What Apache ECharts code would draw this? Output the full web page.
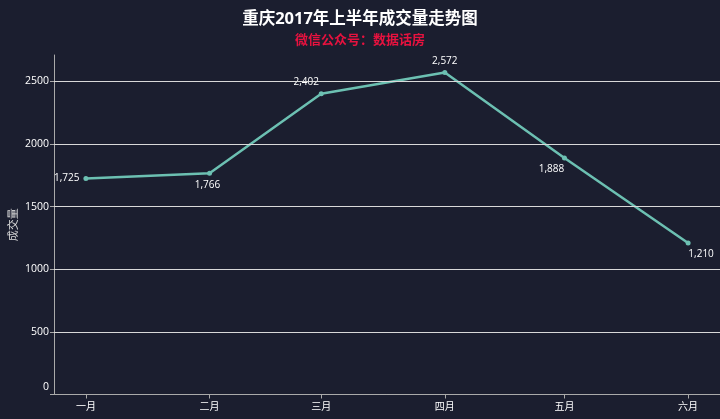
<!DOCTYPE html>
<html><head><meta charset="utf-8">
<script src="https://cdn.jsdelivr.net/npm/echarts@6/dist/echarts.min.js"></script>
<style>html,body{margin:0;padding:0;background:#1b1e2f;}#c{width:720px;height:419px;}</style>
</head><body><div id="c"></div>
<script>
const dates = ['2017-01-01','2017-02-01','2017-03-01','2017-04-01','2017-05-01','2017-06-01'];
const monthNames = ['一月','二月','三月','四月','五月','六月'];
const volumes = [1725, 1766, 2402, 2572, 1888, 1210];
const labelPos = ['left','bottom','top','top','bottom','bottom'];
const labelOffset = [[0,0],[-2,0],[-15,0],[0,0],[-13,0],[13,0]];
const yTicks = [0,500,1000,1500,2000,2500];

const FONT = "'Open Sans','Noto Sans CJK SC',sans-serif";
const chart = echarts.init(document.getElementById('c'));
const ts = dates.map(d => new Date(d + 'T00:00:00').getTime());
chart.setOption({
  backgroundColor: '#1b1e2f',
  animation: false,
  title: [{
    text: '重庆2017年上半年成交量走势图',
    left: 'center', top: 6,
    textStyle: {color: '#ffffff', fontSize: 16.5, fontWeight: 'bold', fontFamily: FONT}
  }, {
    text: '微信公众号：数据话房',
    left: 'center', top: 29,
    textStyle: {color: '#e8123f', fontSize: 13, fontWeight: 'bold', fontFamily: FONT}
  }],
  grid: {left: 54, right: 0, top: 55, bottom: 24.5, containLabel: false, outerBoundsMode: 'none'},
  xAxis: {
    type: 'value',
    min: new Date('2016-12-24T00:00:00').getTime(),
    max: new Date('2017-06-09T00:00:00').getTime(),
    axisLine: {show: true, onZero: false, lineStyle: {color: '#aaaaaa', width: 1}},
    axisTick: {show: true, length: 4, lineStyle: {color: '#aaaaaa'}, customValues: ts},
    axisLabel: {
      customValues: ts, color: '#ffffff', fontSize: 10, fontFamily: FONT, margin: 8,
      formatter: v => monthNames[new Date(v).getMonth()]
    },
    splitLine: {show: false}
  },
  yAxis: {
    type: 'value', min: 0, max: 2711,
    name: '成交量', nameLocation: 'middle', nameGap: 35, nameRotate: 90, nameMoveOverlap: false,
    nameTextStyle: {color: '#dddddd', fontSize: 11, fontFamily: FONT},
    axisLine: {show: true, lineStyle: {color: '#aaaaaa', width: 1}},
    axisTick: {show: true, length: 4, lineStyle: {color: '#aaaaaa'}, customValues: yTicks},
    axisLabel: {
      customValues: yTicks,
      color: '#ffffff', fontSize: 10.5, fontFamily: FONT, margin: 5,
      formatter: v => v === 0 ? '{z|0}' : String(v),
      rich: {z: {color: '#ffffff', fontSize: 10.5, fontFamily: FONT, padding: [0,0,14,0]}}
    },
    splitLine: {show: false}
  },
  series: [{
    type: 'line',
    data: ts.map((t, i) => ({
      value: [t, volumes[i]],
      label: {position: labelPos[i], offset: labelOffset[i]}
    })),
    lineStyle: {color: '#6cc0b2', width: 2.5},
    itemStyle: {color: '#6cc0b2'},
    symbol: 'circle', symbolSize: 5,
    label: {
      show: true, color: '#ffffff', fontSize: 10, fontFamily: FONT, distance: 4,
      formatter: p => p.value[1].toLocaleString('en-US')
    },
    markLine: {
      silent: true, symbol: 'none', label: {show: false},
      lineStyle: {color: '#d9d9d9', width: 1, type: 'solid'},
      data: yTicks.filter(v => v > 0).map(v => ({yAxis: v}))
    },
    z: 3
  }]
});
</script></body></html>
